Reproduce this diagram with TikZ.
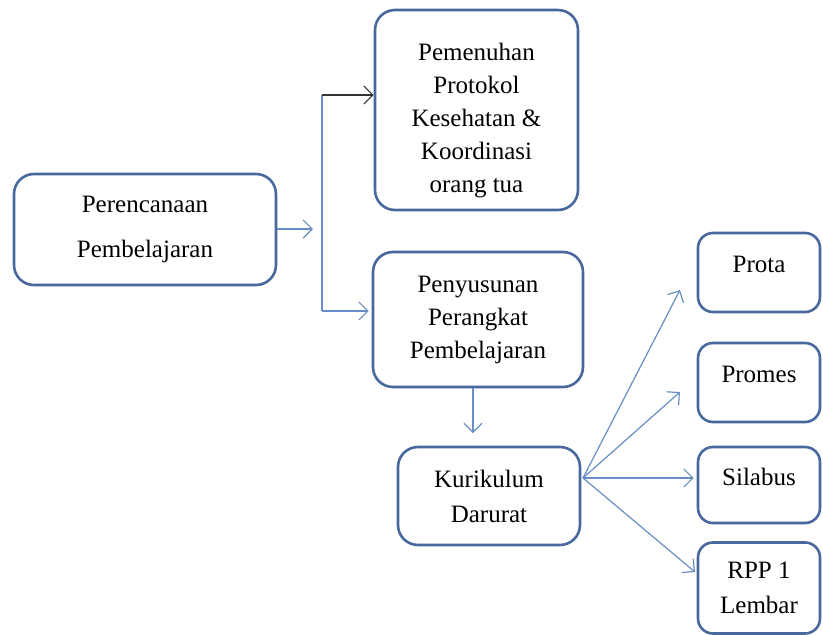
\documentclass[tikz,border=0pt]{standalone}
\usepackage{fontspec}
\setmainfont{Liberation Serif}
\usetikzlibrary{arrows.meta}
\definecolor{boxblue}{RGB}{72,104,158}
\definecolor{linkblue}{RGB}{104,142,198}
\begin{document}
\begin{tikzpicture}[x=1pt,y=-1pt,font=\fontsize{25}{33}\selectfont,
  stage/.style={draw=boxblue,line width=2.6pt,rounded corners=20pt,align=center,inner sep=0pt,fill=white},
  small/.style={stage,rounded corners=15pt,minimum width=122pt},
  link/.style={draw=linkblue,line width=1.2pt,-{Straight Barb[length=9pt,width=18pt,line width=1.2pt]}},
  plain/.style={draw=linkblue,line width=1.2pt}]
\useasboundingbox[fill=white] (0,0) rectangle (823,635);

\node[stage,minimum width=262pt,minimum height=111pt] (plan) at (145,229.5) {Perencanaan\\[12pt]Pembelajaran};
\node[stage,minimum width=203pt,minimum height=200pt] (protokol) at (476.5,110) {\rule{0pt}{38pt}Pemenuhan\\Protokol\\Kesehatan \&\\Koordinasi\\orang tua};
\node[stage,minimum width=210pt,minimum height=135pt] (susun) at (478,319.5) {Penyusunan\\Perangkat\\Pembelajaran};
\node[stage,minimum width=182pt,minimum height=98pt,font=\fontsize{25}{35}\selectfont] (kurikulum) at (489,496) {Kurikulum\\Darurat};
\node[small,minimum height=79pt,text depth=16pt] (prota) at (759,272.5) {Prota};
\node[small,minimum height=79pt,text depth=16pt] (promes) at (759,382.5) {Promes};
\node[small,minimum height=76pt,text depth=16pt] (silabus) at (759,485) {Silabus};
\node[small,minimum height=91pt,font=\fontsize{25}{35}\selectfont] (rpp) at (759,588) {RPP 1\\Lembar};

\coordinate (gap) at (313,229);
\coordinate (trunktop) at (322,95);
\coordinate (trunkbot) at (322,311);
\coordinate (drop) at (473,433);
\coordinate (fan) at (583,478);
\coordinate (toprota) at (680,290);
\coordinate (topromes) at (680,392);
\coordinate (torpp) at (695,572);

\draw[link] (plan.east |- gap) -- (gap);
\draw[plain] (trunktop) -- (trunkbot);
\draw[link,draw=black!80] (trunktop) -- (protokol.west |- trunktop);
\draw[link] (trunkbot) -- ([xshift=-3pt]susun.west |- trunkbot);
\draw[link] (susun.south -| drop) -- (drop);
\draw[link] (fan) -- (toprota);
\draw[link] (fan) -- (topromes);
\draw[link] (fan) -- ([xshift=-3pt]silabus.west |- fan);
\draw[link] (fan) -- (torpp);
\end{tikzpicture}
\end{document}
